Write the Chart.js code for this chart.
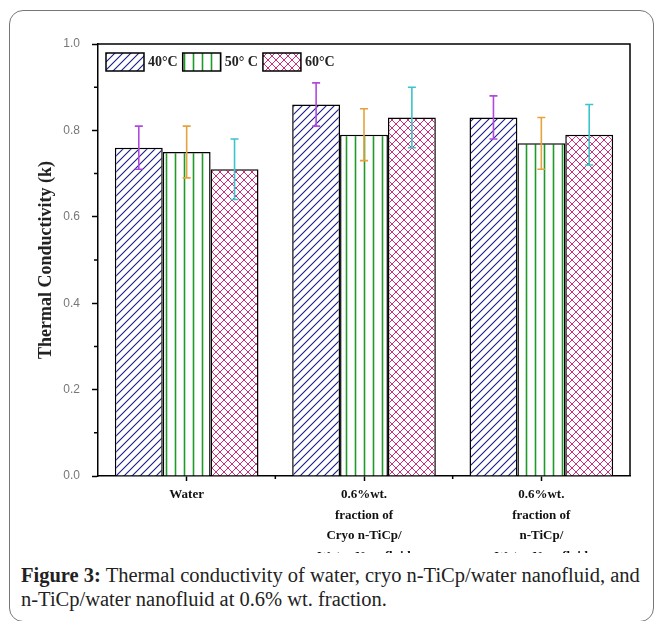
<!DOCTYPE html>
<html>
<head>
<meta charset="utf-8">
<script src="https://cdn.jsdelivr.net/npm/chart.js@4.4.0/dist/chart.umd.min.js"></script>
<style>
    body { margin: 0; background: #fff; }
    #card {
        position: absolute; left: 9px; top: 10px; width: 645px; height: 612px;
        border: 1px solid #777; border-radius: 14px; box-sizing: border-box;
    }
    #plot { position: absolute; left: 0; top: 0; width: 662px; height: 553px; overflow: hidden; }
    #caption {
        position: absolute; left: 21px; top: 563px; width: 640px; white-space: nowrap;
        font-family: "Liberation Serif", "Times New Roman", serif; font-size: 20.5px; line-height: 24px; color: #222;
    }
</style>
</head>
<body>
<div id="card"></div>
<div id="plot"><canvas id="chart" width="662" height="590"></canvas></div>
<div id="caption"><b>Figure 3:</b> Thermal conductivity of water, cryo n-TiCp/water nanofluid, and<br>n-TiCp/water nanofluid at 0.6% wt. fraction.</div>
<script>
// Categories (multi-line x labels)
const categories = [
    'Water',
    ['0.6%wt.', 'fraction of', 'Cryo n-TiCp/', 'Water Nanofluid'],
    ['0.6%wt.', 'fraction of', 'n-TiCp/', 'Water Nanofluid']
];
const seriesLabels = ['40°C', '50° C', '60°C'];

// Thermal conductivity values and error (+/-)
const values40 = [0.76, 0.86, 0.83];
const values50 = [0.75, 0.79, 0.77];
const values60 = [0.71, 0.83, 0.79];
const errors40 = [0.05, 0.05, 0.05];
const errors50 = [0.06, 0.06, 0.06];
const errors60 = [0.07, 0.07, 0.07];

const yTicks = [0.0, 0.2, 0.4, 0.6, 0.8, 1.0];

// Hatch fills for the bars
function makePattern(kind) {
    const size = kind === 'vertical' ? 9 : 8;
    const c = document.createElement('canvas');
    c.width = size; c.height = size;
    const g = c.getContext('2d');
    g.fillStyle = '#fff';
    g.fillRect(0, 0, size, size);
    g.lineCap = 'square';
    if (kind === 'diagonal') {
        g.strokeStyle = '#1c1c8a';
        g.lineWidth = 1.1;
        g.beginPath();
        g.moveTo(0, size); g.lineTo(size, 0);
        g.moveTo(-1, 1); g.lineTo(1, -1);
        g.moveTo(size - 1, size + 1); g.lineTo(size + 1, size - 1);
        g.stroke();
    } else if (kind === 'vertical') {
        g.strokeStyle = '#1f9a2a';
        g.lineWidth = 1.6;
        g.beginPath();
        g.moveTo(4.5, 0); g.lineTo(4.5, size);
        g.stroke();
    } else {
        g.strokeStyle = '#c8357f';
        g.lineWidth = 1;
        g.beginPath();
        g.moveTo(0, 0); g.lineTo(size, size);
        g.moveTo(0, size); g.lineTo(size, 0);
        g.stroke();
        g.fillStyle = '#e0207a';
        g.fillRect(size / 2 - 1, size / 2 - 1, 2, 2);
    }
    return g.createPattern(c, 'repeat');
}

// Error bars drawn from dataset.errors through the y scale
const errorBars = {
    id: 'errorBars',
    afterDatasetsDraw(chart) {
        const ctx = chart.ctx;
        const y = chart.scales.y;
        chart.data.datasets.forEach((ds, i) => {
            const meta = chart.getDatasetMeta(i);
            ctx.save();
            ctx.strokeStyle = ds.errorColor;
            ctx.lineWidth = 1.6;
            meta.data.forEach((bar, j) => {
                const top = y.getPixelForValue(ds.data[j] + ds.errors[j]);
                const bot = y.getPixelForValue(ds.data[j] - ds.errors[j]);
                ctx.beginPath();
                ctx.moveTo(bar.x, top); ctx.lineTo(bar.x, bot);
                ctx.moveTo(bar.x - 4, top); ctx.lineTo(bar.x + 4, top);
                ctx.moveTo(bar.x - 4, bot); ctx.lineTo(bar.x + 4, bot);
                ctx.stroke();
            });
            ctx.restore();
        });
    }
};

// Box frame, minor ticks and the in-plot legend
const frame = {
    id: 'frame',
    afterDraw(chart) {
        const {ctx, chartArea: a, scales: {x, y}} = chart;
        ctx.save();
        ctx.strokeStyle = '#000';
        ctx.lineWidth = 1.5;
        ctx.beginPath();
        ctx.moveTo(a.left, a.top); ctx.lineTo(a.right, a.top); ctx.lineTo(a.right, a.bottom);
        // minor y ticks between labelled ticks
        for (let k = 0; k < y.ticks.length - 1; k++) {
            const py = y.getPixelForValue((y.ticks[k].value + y.ticks[k + 1].value) / 2);
            ctx.moveTo(a.left, py); ctx.lineTo(a.left - 4, py);
        }
        // minor x ticks between categories
        for (let k = 0; k < categories.length - 1; k++) {
            const px = (x.getPixelForTick(k) + x.getPixelForTick(k + 1)) / 2;
            ctx.moveTo(px, a.bottom); ctx.lineTo(px, a.bottom + 3);
        }
        ctx.stroke();

        // legend inside the plot, top-left
        let lx = a.left + 8;
        const ly = a.top + 9;
        ctx.font = 'bold 14px "Liberation Serif"';
        ctx.textBaseline = 'middle';
        chart.data.datasets.forEach(ds => {
            ctx.fillStyle = ds.backgroundColor;
            ctx.fillRect(lx, ly, 38, 18);
            ctx.strokeStyle = '#000';
            ctx.lineWidth = 1.5;
            ctx.strokeRect(lx, ly, 38, 18);
            ctx.fillStyle = '#222';
            ctx.fillText(ds.label, lx + 42, ly + 9.5);
            lx += 42 + ctx.measureText(ds.label).width + 5;
        });
        ctx.restore();
    }
};

const ctx = document.getElementById('chart').getContext('2d');
const chart = new Chart(ctx, {
    type: 'bar',
    data: {
        labels: categories,
        datasets: [
            { label: seriesLabels[0], data: values40, errors: errors40, errorColor: '#b049e0',
              backgroundColor: makePattern('diagonal'), borderColor: '#000', borderWidth: 1.5 },
            { label: seriesLabels[1], data: values50, errors: errors50, errorColor: '#e6a23c',
              backgroundColor: makePattern('vertical'), borderColor: '#000', borderWidth: 1.5 },
            { label: seriesLabels[2], data: values60, errors: errors60, errorColor: '#3cc4cc',
              backgroundColor: makePattern('cross'), borderColor: '#000', borderWidth: 1.5 }
        ]
    },
    options: {
        responsive: false,
        animation: false,
        categoryPercentage: 0.81,
        barPercentage: 1.0,
        layout: { padding: { top: 44, right: 32, left: 0, bottom: 0 } },
        plugins: {
            legend: { display: false },
            tooltip: { enabled: false }
        },
        scales: {
            x: {
                grid: { display: true, drawOnChartArea: false, offset: false, tickLength: 5, tickWidth: 1.5, tickColor: '#000' },
                border: { color: '#000', width: 1.5 },
                ticks: {
                    color: '#111',
                    autoSkip: false,
                    maxRotation: 0,
                    padding: 3,
                    font: { family: 'Liberation Serif', weight: 'bold', size: 13, lineHeight: 1.6 }
                },
                afterFit(scale) { scale.height = 114; }
            },
            y: {
                min: 0,
                max: 1.0,
                afterBuildTicks(scale) { scale.ticks = yTicks.map(v => ({ value: v })); },
                grid: { display: true, drawOnChartArea: false, tickLength: 6, tickWidth: 1.5, tickColor: '#000' },
                border: { color: '#000', width: 1.5 },
                ticks: {
                    color: '#777',
                    padding: 12,
                    font: { family: 'Liberation Sans', size: 12 },
                    callback: v => v.toFixed(1)
                },
                title: {
                    display: true,
                    text: 'Thermal Conductivity (k)',
                    color: '#222',
                    padding: { top: 36, bottom: 0 },
                    font: { family: 'Liberation Serif', weight: 'bold', size: 18 }
                },
                afterFit(scale) { scale.width = 98; }
            }
        }
    },
    plugins: [errorBars, frame]
});
</script>
</body>
</html>
